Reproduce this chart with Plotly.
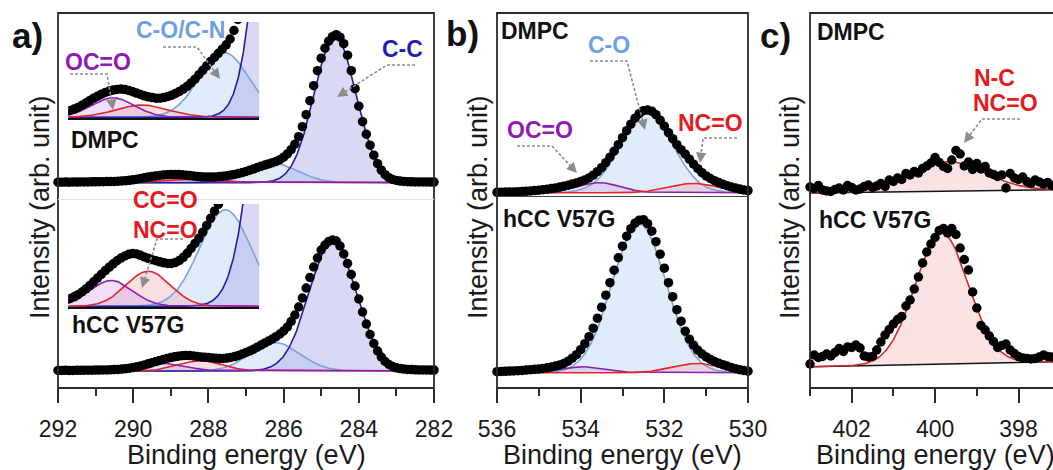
import numpy as np
import plotly.graph_objects as go

W, H = 1053, 470

# ---------------- data ----------------
c1s_energy = np.round(np.linspace(292.0, 282.0, 101), 1)
c1s_dmpc = [0.5, 0.5, 0.6, 0.5, 0.7, 0.6, 0.8, 0.7, 0.8, 0.9,
            0.9, 1.0, 1.0, 1.1, 1.2, 1.3, 1.5, 1.7, 2.0, 2.4,
            2.9, 3.5, 4.2, 4.9, 5.6, 6.2, 6.8, 7.3, 7.7, 8.0,
            8.2, 8.3, 8.2, 7.9, 7.5, 7.1, 6.7, 6.3, 6.0, 5.8,
            5.6, 5.6, 5.8, 6.1, 6.5, 7.0, 7.6, 8.3, 9.1, 10.1,
            11.2, 12.5, 13.8, 15.1, 16.4, 17.6, 18.8, 20.0, 21.3, 23.0,
            25.5, 28.8, 33.0, 38.5, 46.0, 56.0, 68.0, 82.0, 97.0, 112.0,
            124.5, 134.5, 141.5, 146.0, 148.0, 145.5, 139.0, 127.5, 112.0, 94.0,
            76.5, 61.0, 48.5, 37.5, 27.5, 19.0, 12.5, 8.0, 5.0, 3.2,
            2.2, 1.6, 1.2, 1.0, 0.9, 0.8, 0.8, 0.7, 0.7, 0.6, 0.6]
c1s_hcc = [0.6, 0.5, 0.7, 0.6, 0.6, 0.7, 0.7, 0.8, 0.8, 0.8,
           0.9, 0.9, 1.0, 1.1, 1.2, 1.4, 1.6, 1.9, 2.3, 2.8,
           3.4, 4.2, 5.1, 6.1, 7.2, 8.3, 9.4, 10.5, 11.5, 12.5,
           13.4, 14.2, 14.8, 15.3, 15.5, 15.4, 15.0, 14.5, 14.1, 13.7,
           13.4, 13.1, 12.8, 12.6, 12.6, 12.9, 13.5, 14.4, 15.6, 17.0,
           18.5, 20.0, 21.8, 23.8, 25.9, 28.0, 30.0, 32.0, 34.3, 37.0,
           40.0, 44.0, 49.5, 56.0, 64.0, 73.0, 83.0, 93.5, 104.0, 113.0,
           121.0, 126.0, 129.5, 131.0, 130.0, 125.0, 117.0, 107.5, 96.5, 85.0,
           72.0, 59.0, 47.0, 36.5, 27.5, 20.0, 14.0, 9.5, 6.5, 4.5,
           3.2, 2.4, 1.9, 1.6, 1.4, 1.2, 1.1, 1.0, 1.0, 0.9, 0.9]

o1s_energy = np.round(np.linspace(536.0, 530.0, 61), 1)
o1s_dmpc = [0.4, 0.5, 0.6, 0.7, 0.8, 1.0, 1.2, 1.4, 1.7, 2.1,
            2.5, 3.0, 3.5, 4.1, 4.8, 5.6, 6.5, 7.5, 8.6, 9.8,
            11.2, 12.8, 14.8, 17.5, 21.0, 25.0, 30.0, 35.5, 41.5, 48.0,
            55.0, 62.0, 68.5, 74.5, 79.0, 82.0, 82.7, 81.5, 78.0, 72.5,
            66.5, 60.0, 54.0, 48.0, 43.0, 38.5, 33.5, 28.5, 24.0, 20.0,
            16.8, 14.2, 12.0, 10.1, 8.5, 7.0, 5.7, 4.6, 3.6, 2.8, 2.1]
o1s_hcc = [1.0, 1.2, 1.4, 1.6, 1.8, 2.0, 2.3, 2.6, 3.0, 3.4,
           3.8, 4.3, 4.9, 5.7, 6.6, 7.8, 9.3, 11.5, 14.5, 18.0,
           23.0, 29.0, 36.0, 44.5, 54.5, 65.5, 77.5, 90.0, 102.5, 115.0,
           126.5, 136.5, 144.0, 149.5, 152.5, 153.0, 149.0, 141.5, 131.0, 118.5,
           104.5, 90.0, 76.0, 63.0, 51.5, 41.5, 33.5, 27.5, 22.5, 18.8,
           15.8, 13.3, 11.2, 9.5, 8.0, 6.6, 5.2, 4.0, 3.0, 2.2, 1.5]

n1s_energy = np.round(np.linspace(403.0, 397.2, 59), 1)
n1s_dmpc = [9.0, 7.5, 10.5, 6.0, 5.0, 4.5, 6.5, 8.0, 6.0, 10.5,
            8.5, 6.0, 7.0, 9.5, 11.0, 8.5, 10.0, 12.5, 9.5, 16.0,
            14.5, 18.0, 16.5, 22.5, 21.0, 24.5, 23.0, 27.5, 30.0, 33.0,
            38.5, 33.5, 29.5, 27.5, 36.0, 45.5, 42.0, 30.0, 34.0, 26.5,
            32.5, 27.0, 29.5, 23.0, 21.5, 19.5, 21.0, 8.0, 22.5, 18.0,
            16.5, 19.0, 14.5, 12.5, 16.0, 14.0, 12.0, 13.5, 10.5]
n1s_hcc = [24.0, 33.0, 30.5, 31.5, 34.0, 32.0, 35.5, 39.5, 36.5, 41.0,
           40.5, 43.0, 40.0, 32.0, 31.0, 31.5, 38.0, 46.0, 53.0, 58.5,
           64.0, 68.5, 71.5, 82.0, 88.0, 99.0, 111.0, 125.0, 136.0, 144.0,
           150.5, 157.5, 159.5, 155.0, 159.5, 153.5, 140.0, 128.5, 118.0, 96.0,
           80.0, 62.5, 58.0, 52.0, 46.5, 40.5, 42.5, 44.0, 38.0, 34.5,
           31.5, 30.0, 29.5, 29.0, 29.5, 31.0, 33.0, 31.5, 31.0]

# fitted components: centre (eV), sigma (eV), height (arb. unit)
c1s_components = ["C-C", "C-O/C-N", "OC=O", "CC=O/NC=O"]
c1s_dmpc_center = [284.63, 286.25, 289.10, 288.35]
c1s_dmpc_sigma = [0.56, 0.64, 0.55, 0.68]
c1s_dmpc_height = [146.0, 19.0, 5.7, 3.6]
c1s_hcc_center = [284.69, 286.22, 289.15, 288.20]
c1s_hcc_sigma = [0.63, 0.66, 0.55, 0.57]
c1s_hcc_height = [129.5, 28.4, 7.6, 10.3]

o1s_components = ["C-O", "OC=O", "NC=O"]
o1s_dmpc_center = [532.42, 533.55, 531.30]
o1s_dmpc_sigma = [0.62, 0.50, 0.58]
o1s_dmpc_height = [79.5, 10.0, 9.3]
o1s_hcc_center = [532.60, 533.90, 531.20]
o1s_hcc_sigma = [0.64, 0.50, 0.58]
o1s_hcc_height = [149.0, 6.0, 9.3]

n1s_dmpc_peak = [399.68, 0.88, 29.4]
n1s_hcc_peak = [399.84, 0.64, 130.7]
n1s_bg_energy = [403.0, 397.17]
n1s_dmpc_bg = [3.0, 6.3]
n1s_hcc_bg = [21.3, 26.3]

# ---------------- styles ----------------
FONT = "Arial, 'Liberation Sans', sans-serif"
C1S_LINE = ["#1f1fa3", "#7ba3d8", "#8c1fb0", "#e3262b"]
C1S_FILL = ["rgba(170,170,235,0.45)", "rgba(200,220,245,0.55)",
            "rgba(205,150,225,0.30)", "rgba(240,150,160,0.30)"]
O1S_LINE = ["#7ba3d8", "#8c1fb0", "#e3262b"]
O1S_FILL = ["rgba(200,220,245,0.55)", "rgba(205,150,225,0.30)", "rgba(240,150,160,0.30)"]
LBL = {"cc": "#1e1eb4", "co": "#6f9fe3", "pu": "#8e1bb8", "red": "#e5191e"}


def gauss(x, c, s, h):
    return h * np.exp(-(x - c) ** 2 / (2 * s * s))


def px_x(x):
    return x / W


def px_y(y):
    return 1 - y / H


fig = go.Figure()

# subplot geometry in pixels: (x0, x1), (ytop, ybottom), xrange, yrange
c_right = 403.0 - 243 / 41.7
subplots = {
    1: ((58, 434), (13, 199), [292, 282], [-16.3, 169.7]),
    2: ((58, 434), (199, 388), [292, 282], [-17.0, 172.0]),
    3: ((497, 748), (13, 196), [536, 530], [-3.3, 179.7]),
    4: ((497, 748), (196, 388), [536, 530], [-15.3, 176.7]),
    5: ((810, 1053), (13, 196), [403, c_right], [0, 183]),
    6: ((810, 1053), (196, 388), [403, c_right], [0, 192]),
    7: ((68.3, 259.3), (22, 118.3), [290.25, 285.35], [-0.3, 28.0]),
    8: ((68.3, 259.3), (204, 307.3), [290.25, 285.35], [-0.3, 30.1]),
}

layout_axes = {}
for k, ((x0, x1), (yt, yb), xr, yr) in subplots.items():
    sx = "" if k == 1 else str(k)
    xa = dict(domain=[x0 / W, x1 / W], range=xr, anchor="y" + sx, visible=False,
              showgrid=False, zeroline=False, fixedrange=True, automargin=False)
    ya = dict(domain=[1 - yb / H, 1 - yt / H], range=yr, anchor="x" + sx, visible=False,
              showgrid=False, zeroline=False, fixedrange=True, automargin=False)
    if k in (2, 4, 6):
        xa.update(visible=True, showline=False, ticks="outside", ticklen=14, tickwidth=1.6,
                  tickcolor="#2b2b2b", dtick=2, tick0=282 if k == 2 else (530 if k == 4 else 398),
                  tickfont=dict(family=FONT, size=23, color="#1a1a1a"),
                  ticklabelstandoff=6,
                  minor=dict(dtick=1, ticklen=7, tickwidth=1.6, tickcolor="#2b2b2b", ticks="outside",
                             showgrid=False))
    if k in (7, 8):
        xa.update(visible=True, showline=True, linecolor="#111111", linewidth=1.6,
                  ticks="", showticklabels=False)
    layout_axes["xaxis" + sx] = xa
    layout_axes["yaxis" + sx] = ya


def ax(k):
    s = "" if k == 1 else str(k)
    return dict(xaxis="x" + s, yaxis="y" + s)


def add_c1s(k, energy, data, centers, sigmas, heights, xr, clip=False):
    xg = np.linspace(min(xr), max(xr), 600)
    comps = [gauss(xg, c, s, h) for c, s, h in zip(centers, sigmas, heights)]
    order = [1, 0, 3, 2]
    for i in order:
        fig.add_trace(go.Scatter(x=xg, y=comps[i], mode="lines", fill="tozeroy",
                                 fillcolor=C1S_FILL[i], line=dict(width=0),
                                 hoverinfo="skip", showlegend=False, **ax(k)))
    for i in order:
        fig.add_trace(go.Scatter(x=xg, y=comps[i], mode="lines",
                                 line=dict(color=C1S_LINE[i], width=1.6),
                                 hoverinfo="skip", showlegend=False, **ax(k)))
    fig.add_trace(go.Scatter(x=energy, y=data, mode="markers",
                             marker=dict(size=9.5, color="black"), cliponaxis=clip,
                             showlegend=False, **ax(k)))


def add_o1s(k, energy, data, centers, sigmas, heights):
    xg = np.linspace(530, 536, 500)
    comps = [gauss(xg, c, s, h) for c, s, h in zip(centers, sigmas, heights)]
    for i in range(3):
        fig.add_trace(go.Scatter(x=xg, y=comps[i], mode="lines", fill="tozeroy",
                                 fillcolor=O1S_FILL[i], line=dict(width=0),
                                 hoverinfo="skip", showlegend=False, **ax(k)))
    for i in range(3):
        fig.add_trace(go.Scatter(x=xg, y=comps[i], mode="lines",
                                 line=dict(color=O1S_LINE[i], width=1.6),
                                 hoverinfo="skip", showlegend=False, **ax(k)))
    fig.add_trace(go.Scatter(x=energy, y=data, mode="markers",
                             marker=dict(size=9.5, color="black"), cliponaxis=False,
                             showlegend=False, **ax(k)))


def add_n1s(k, energy, data, peak, bg):
    xg = np.linspace(c_right, 403.0, 400)
    bgl = np.interp(xg, n1s_bg_energy[::-1], bg[::-1])
    fig.add_trace(go.Scatter(x=xg, y=bgl, mode="lines", line=dict(color="#151515", width=1.5),
                             hoverinfo="skip", showlegend=False, **ax(k)))
    fig.add_trace(go.Scatter(x=xg, y=bgl + gauss(xg, *peak), mode="lines", fill="tonexty",
                             fillcolor="rgba(245,175,175,0.35)",
                             line=dict(color="#d42a2a", width=1.6),
                             hoverinfo="skip", showlegend=False, **ax(k)))
    fig.add_trace(go.Scatter(x=energy, y=data, mode="markers",
                             marker=dict(size=9.5, color="black"), cliponaxis=False,
                             showlegend=False, **ax(k)))


add_c1s(1, c1s_energy, c1s_dmpc, c1s_dmpc_center, c1s_dmpc_sigma, c1s_dmpc_height, [292, 282])
add_c1s(2, c1s_energy, c1s_hcc, c1s_hcc_center, c1s_hcc_sigma, c1s_hcc_height, [292, 282])
add_c1s(7, c1s_energy, c1s_dmpc, c1s_dmpc_center, c1s_dmpc_sigma, c1s_dmpc_height, [290.25, 285.35], clip=True)
add_c1s(8, c1s_energy, c1s_hcc, c1s_hcc_center, c1s_hcc_sigma, c1s_hcc_height, [290.25, 285.35], clip=True)
add_o1s(3, o1s_energy, o1s_dmpc, o1s_dmpc_center, o1s_dmpc_sigma, o1s_dmpc_height)
add_o1s(4, o1s_energy, o1s_hcc, o1s_hcc_center, o1s_hcc_sigma, o1s_hcc_height)
add_n1s(5, n1s_energy, n1s_dmpc, n1s_dmpc_peak, n1s_dmpc_bg)
add_n1s(6, n1s_energy, n1s_hcc, n1s_hcc_peak, n1s_hcc_bg)

shapes = []
FRAME = dict(color="#2b2b2b", width=1.8)
for (x0, x1) in [(58, 434), (497, 748), (810, 1062)]:
    shapes.append(dict(type="rect", xref="paper", yref="paper", x0=px_x(x0), x1=px_x(x1),
                       y0=px_y(388), y1=px_y(13), line=FRAME, layer="above"))
# dividers between stacked spectra
shapes.append(dict(type="line", xref="paper", yref="paper", x0=px_x(58), x1=px_x(434),
                   y0=px_y(199.5), y1=px_y(199.5), line=dict(color="#e2e2e2", width=1)))
shapes.append(dict(type="line", xref="paper", yref="paper", x0=px_x(497), x1=px_x(748),
                   y0=px_y(196.5), y1=px_y(196.5), line=dict(color="#444444", width=1.2)))

annotations = []
ARROW = "#8c8c8c"
arrows = [
    [(415, 65), (387, 65), (337, 97)],
    [(163, 47), (197, 47), (220, 79)],
    [(70, 74), (107, 74), (113, 110)],
    [(183, 239), (157, 239), (142, 288)],
    [(590, 61), (627, 61), (645, 130)],
    [(517, 146), (552, 146), (577, 173)],
    [(737, 138), (703, 138), (700, 163)],
    [(1020, 119), (982, 119), (964, 143)],
]
for (p0, p1, p2) in arrows:
    dx, dy = p2[0] - p1[0], p2[1] - p1[1]
    L = (dx * dx + dy * dy) ** 0.5
    ux, uy = dx / L, dy / L
    ex, ey = p2[0] - ux * 8, p2[1] - uy * 8
    path = "M {} {} L {} {} L {} {}".format(px_x(p0[0]), px_y(p0[1]), px_x(p1[0]), px_y(p1[1]),
                                            px_x(ex), px_y(ey))
    shapes.append(dict(type="path", xref="paper", yref="paper", path=path,
                       line=dict(color=ARROW, width=1.6, dash="3px,2px")))
    annotations.append(dict(x=px_x(p2[0]), y=px_y(p2[1]), xref="paper", yref="paper", text="",
                            showarrow=True, ax=-ux * 10, ay=-uy * 10, arrowhead=2, arrowsize=1.3,
                            arrowwidth=1.6, arrowcolor=ARROW, standoff=0))


def text(t, x, y, size=23, color="#111111", bold=True, xanchor="center", angle=0):
    annotations.append(dict(text="<b>%s</b>" % t if bold else t, x=px_x(x), y=px_y(y),
                            xref="paper", yref="paper", showarrow=False, xanchor=xanchor,
                            yanchor="middle", textangle=angle,
                            font=dict(family=FONT, size=size, color=color)))


text("C-C", 402, 49, color=LBL["cc"])
text("C-O/C-N", 180, 30, color=LBL["co"])
text("OC=O", 98, 62, color=LBL["pu"])
text("CC=O", 131, 200, color=LBL["red"], xanchor="left")
text("NC=O", 131, 230, color=LBL["red"], xanchor="left")
text("DMPC", 105, 140)
text("hCC V57G", 128, 325)
text("DMPC", 535, 31)
text("C-O", 609, 45, color=LBL["co"])
text("OC=O", 540, 130, color=LBL["pu"])
text("NC=O", 710, 123, color=LBL["red"])
text("hCC V57G", 559, 219)
text("DMPC", 851, 32)
text("N-C", 972, 78, color=LBL["red"], xanchor="left")
text("NC=O", 971, 103, color=LBL["red"], xanchor="left")
text("hCC V57G", 875, 220)
text("a)", 27, 35, size=35)
text("b)", 462, 33, size=35)
text("c)", 775, 35, size=35)
for xc in (40, 478, 790):
    text("Intensity (arb. unit)", xc, 207, size=27, color="#1a1a1a", bold=False, angle=-90)
for xc in (246, 622, 935):
    text("Binding energy (eV)", xc, 455, size=27, color="#1a1a1a", bold=False)

fig.update_layout(template="none", width=W, height=H, autosize=False,
                  margin=dict(l=0, r=0, t=0, b=0, pad=0),
                  paper_bgcolor="white", plot_bgcolor="rgba(0,0,0,0)",
                  showlegend=False, shapes=shapes, annotations=annotations,
                  font=dict(family=FONT), **layout_axes)

fig.write_html("out.html", config={"displayModeBar": False, "staticPlot": False},
               post_script="document.body.style.margin='0px';document.body.style.padding='0px';")
